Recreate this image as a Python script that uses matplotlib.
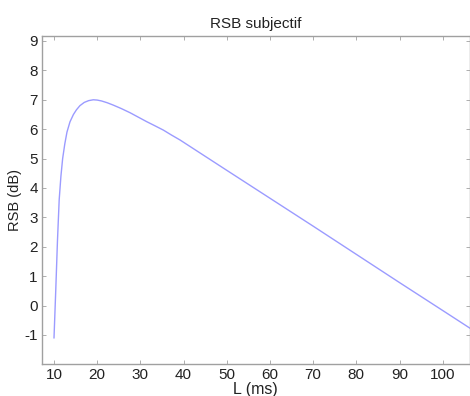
import matplotlib
matplotlib.use("Agg")
import matplotlib.pyplot as plt

# values
L_ms = [10.0, 10.4, 10.8, 11.2, 11.6, 12.0, 12.5, 13.0, 13.7, 14.5, 15.2, 16.0,
        17.0, 18.0, 19.1, 20.0, 21.0, 22.3, 23.7, 25.6, 27.6, 29.5, 31.4, 33.3,
        35.3, 37.2, 39.2, 50.0, 60.0, 70.0, 80.0, 90.0, 100.0, 106.5]
rsb_db = [-1.1, 0.5, 2.2, 3.6, 4.4, 5.0, 5.5, 5.9, 6.25, 6.5, 6.66, 6.8,
          6.91, 6.97, 7.0, 6.99, 6.96, 6.9, 6.82, 6.7, 6.56, 6.41, 6.26, 6.12,
          5.97, 5.8, 5.63, 4.6, 3.65, 2.7, 1.74, 0.78, -0.17, -0.79]

xticks = [10, 20, 30, 40, 50, 60, 70, 80, 90, 100]
yticks = [-1, 0, 1, 2, 3, 4, 5, 6, 7, 8, 9]

plt.rcParams['font.family'] = ['Liberation Sans', 'DejaVu Sans']
plt.rcParams['axes.unicode_minus'] = False

fig = plt.figure(figsize=(4.7, 3.96), dpi=100)
ax = fig.add_axes([42 / 470, 1 - 364 / 396, (469.5 - 42) / 470, (364 - 36) / 396])

ax.plot(L_ms, rsb_db, color='#9b9bff', linewidth=1.0)

ax.set_xlim(7.22, 106.2)
ax.set_ylim(-1.99, 9.17)
ax.set_xticks(xticks)
ax.set_yticks(yticks)

for s in ax.spines.values():
    s.set_color('#a0a0a0')
    s.set_linewidth(1.0)
ax.tick_params(direction='in', length=3, width=0.6, color='#a0a0a0',
               labelsize=11, labelcolor='#222222', top=True, right=True, pad=3)

ax.set_title('RSB subjectif', fontsize=11, color='#222222', pad=6)
ax.set_xlabel('L (ms)', fontsize=11.5, color='#222222', labelpad=0)
ax.set_ylabel('RSB (dB)', fontsize=10.5, color='#222222', labelpad=2)

fig.savefig('out.png', dpi=100)
